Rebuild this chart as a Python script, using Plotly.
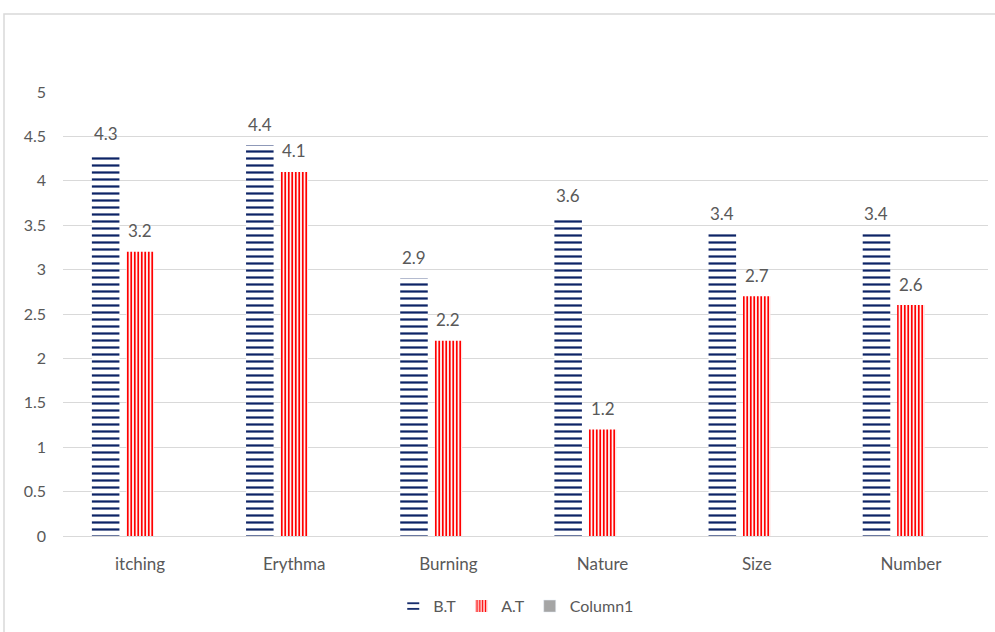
import plotly.graph_objects as go

categories = ["itching", "Erythma", "Burning", "Nature", "Size", "Number"]
before_treatment = [4.3, 4.4, 2.9, 3.6, 3.4, 3.4]
after_treatment = [3.2, 4.1, 2.2, 1.2, 2.7, 2.6]
column1 = [None, None, None, None, None, None]

FONT = "Lato, Open Sans, sans-serif"
GREY_TEXT = "#595959"

# plot area geometry (pixels)
M_L, M_R, M_T, M_B = 63, 7, 92, 96
W, H = 995, 632
PLOT_W = W - M_L - M_R
PLOT_H = H - M_T - M_B
BARGAP = 0.33
SLOT = PLOT_W / len(categories) * (1 - BARGAP) / 3

fig = go.Figure()
fig.add_trace(go.Bar(
    name="B.T", x=categories, y=before_treatment,
    marker=dict(color="white", line=dict(width=0),
                pattern=dict(shape="-", fgcolor="#0d2466", bgcolor="white",
                             fgopacity=1, size=7, solidity=0.32)),
))
fig.add_trace(go.Bar(
    name="A.T", x=categories, y=after_treatment,
    marker=dict(color="white", line=dict(width=0),
                pattern=dict(shape="|", fgcolor="#ff0000", bgcolor="#fff4f4",
                             fgopacity=1, size=3.5, solidity=0.5)),
))
fig.add_trace(go.Bar(
    name="Column1", x=categories, y=column1,
    marker=dict(color="#a5a5a5"),
))

# value labels above each bar
for values, offset in ((before_treatment, -SLOT), (after_treatment, 0)):
    for cat, v in zip(categories, values):
        fig.add_annotation(x=cat, y=v, text=f"{v:g}", showarrow=False,
                           xshift=offset, yshift=21, yanchor="middle",
                           font=dict(family=FONT, size=17, color=GREY_TEXT))

# outer chart frame
fig.add_shape(type="rect", xref="paper", yref="paper",
              x0=-(M_L - 4) / PLOT_W, x1=1.2, y0=-0.5, y1=1 + (M_T - 14) / PLOT_H,
              line=dict(color="#d9d9d9", width=1.5), fillcolor="rgba(0,0,0,0)",
              layer="below")

fig.update_layout(
    width=W, height=H,
    margin=dict(l=M_L, r=M_R, t=M_T, b=M_B),
    plot_bgcolor="white", paper_bgcolor="white",
    barmode="group", bargap=BARGAP, bargroupgap=0.2,
    font=dict(family=FONT, size=16, color=GREY_TEXT),
    showlegend=True,
    legend=dict(orientation="h", x=0.49, xanchor="center", y=-0.158, yanchor="middle",
                font=dict(size=16, color=GREY_TEXT), itemwidth=30,
                traceorder="normal"),
    xaxis=dict(showgrid=False, showline=False, ticks="", ticklabelstandoff=16,
               tickfont=dict(size=17, color=GREY_TEXT)),
    yaxis=dict(range=[0, 5], dtick=0.5, showgrid=True, gridcolor="#d9d9d9",
               gridwidth=1, zeroline=True, zerolinecolor="#d9d9d9", zerolinewidth=1,
               showline=False, ticks="", ticklabelstandoff=16,
               tickfont=dict(size=16, color=GREY_TEXT)),
)

fig.write_html("out.html")
